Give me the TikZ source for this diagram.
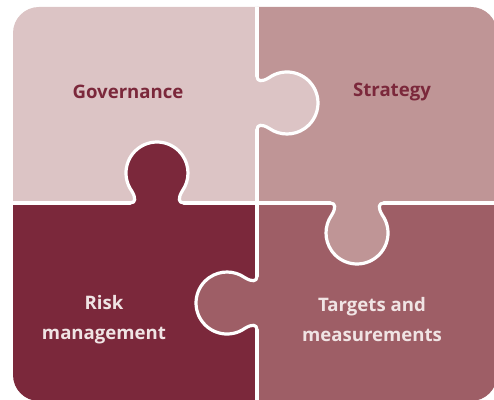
\documentclass[tikz,border=0pt]{standalone}
\usepackage{fontspec}
\setmainfont{Open Sans}
\definecolor{cTL}{HTML}{DCC4C5}
\definecolor{cTR}{HTML}{BF9596}
\definecolor{cBL}{HTML}{7B283B}
\definecolor{cBR}{HTML}{9E5E66}
\definecolor{cLight}{HTML}{F0E4E4}
\newcommand\tabshape{(-27,0) .. controls (-21,0) and (-21,5) .. (-25.4,12.2) arc[start angle=215, end angle=-35, radius=31] .. controls (21,5) and (21,0) .. (27,0)}
\tikzset{
  divider/.style={draw=white, line width=3.2pt, line cap=round, line join=round},
  lbl/.style={font=\fontsize{18.6}{30}\selectfont\bfseries, align=center, inner sep=0pt},
}
\begin{document}
\begin{tikzpicture}[x=1pt,y=1pt]
\useasboundingbox (0,0) rectangle (494,399);
\begin{scope}
  \clip (0,0) rectangle (494,399);
  \clip[rounded corners=26pt] (13,-2) rectangle (497,392);
  \fill[cTL] (0,196) rectangle (257,399);
  \fill[cTR] (257,196) rectangle (500,399);
  \fill[cBL] (0,-5) rectangle (257,196);
  \fill[cBR] (257,-5) rectangle (500,196);
  % tab fills
  \begin{scope}[shift={(157,196)}]
    \fill[cBL] \tabshape -- cycle;
  \end{scope}
  \begin{scope}[shift={(257,296)}, rotate=-90]
    \fill[cTL] \tabshape -- cycle;
  \end{scope}
  \begin{scope}[shift={(357,196)}, rotate=180]
    \fill[cTR] \tabshape -- cycle;
  \end{scope}
  \begin{scope}[shift={(257,96)}, rotate=90]
    \fill[cBR] \tabshape -- cycle;
  \end{scope}
  % dividers
  \coordinate (vt) at (257,399);
  \coordinate (vb) at (257,-5);
  \coordinate (hl) at (0,196);
  \coordinate (hr) at (500,196);
  \path[divider] (vt) -- (257,323) (257,269) -- (257,123) (257,69) -- (vb);
  \path[divider] (hl) -- (130,196) (184,196) -- (330,196) (384,196) -- (hr);
  \begin{scope}[shift={(157,196)}]
    \path[divider] \tabshape;
  \end{scope}
  \begin{scope}[shift={(257,296)}, rotate=-90]
    \path[divider] \tabshape;
  \end{scope}
  \begin{scope}[shift={(357,196)}, rotate=180]
    \path[divider] \tabshape;
  \end{scope}
  \begin{scope}[shift={(257,96)}, rotate=90]
    \path[divider] \tabshape;
  \end{scope}
\end{scope}
\node[lbl, text=cBL] (gov) at (128,307) {Governance};
\node[lbl, text=cBL] (str) at (392,307) {Strategy};
\node[lbl, text=cLight] (risk) at (104,79) {Risk\\management};
\node[lbl, text=cLight] (tgt) at (372,79) {Targets and\\measurements};
\end{tikzpicture}
\end{document}
